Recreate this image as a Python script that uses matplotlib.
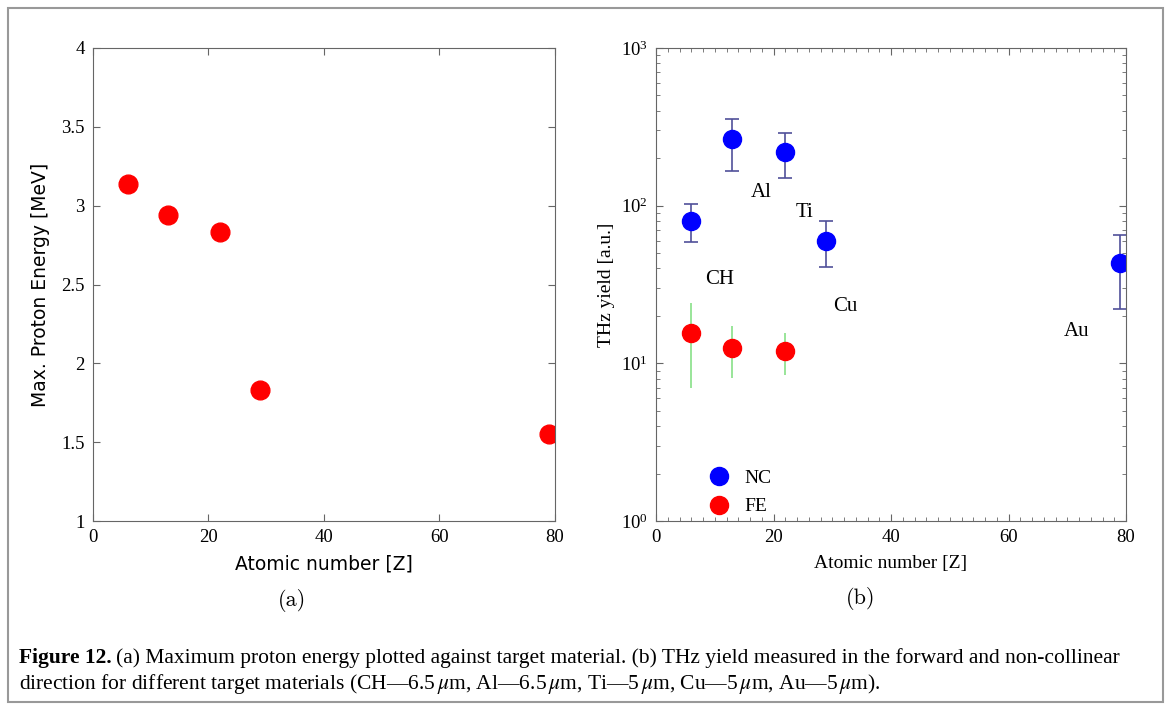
import numpy as np
import matplotlib
matplotlib.use('Agg')
import matplotlib.pyplot as plt
from matplotlib.patches import Rectangle
from matplotlib.ticker import MultipleLocator, LogLocator, NullFormatter

plt.rcParams['mathtext.fontset'] = 'stix'
plt.rcParams['font.family'] = 'Liberation Serif'

# (a) max proton energy
z_a = [6, 13, 22, 29, 79]
energy = [3.14, 2.94, 2.83, 1.83, 1.55]

# (b) THz yield
z_nc = [6, 13, 22, 29, 79]
nc = [80, 265, 219, 60, 43.5]
nc_lo = [58.5, 167, 150, 41, 22]
nc_hi = [102, 355, 288, 80, 65]

z_fe = [6, 13, 22]
fe = [15.5, 12.6, 12.0]
fe_lo = [7.0, 8.1, 8.4]
fe_hi = [24.0, 17.3, 15.6]

labels = ['CH', 'Al', 'Ti', 'Cu', 'Au']
label_x = [10.9, 17.9, 25.3, 32.3, 71.6]
label_y = [33.8, 122, 90, 23.1, 15.9]

W, H = 1171, 710
fig = plt.figure(figsize=(W/100, H/100), dpi=100)
spine_c = '#666666'

def px(x0, y0, x1, y1):
    return [x0/W, 1 - y1/H, (x1-x0)/W, (y1-y0)/H]

ax1 = fig.add_axes(px(93, 48, 555, 521))
ax1.plot(z_a, energy, 'o', color='#ff0000', ms=13.5, mec='#ff0000')
ax1.set_xlim(0, 80)
ax1.set_ylim(1, 4)
ax1.xaxis.set_major_locator(MultipleLocator(20))
ax1.set_yticks([1, 1.5, 2, 2.5, 3, 3.5, 4], ['1', '1.5', '2', '2.5', '3', '3.5', '4'])
ax1.tick_params(direction='in', top=True, right=True, length=5, color=spine_c,
                labelsize=13.5, pad=6)
ax1.set_xlabel('Atomic number [Z]', family='DejaVu Sans', fontsize=13.5, labelpad=6)
ax1.set_ylabel('Max. Proton Energy [MeV]', family='DejaVu Sans', fontsize=13.5, labelpad=8)

ax2 = fig.add_axes(px(656, 48, 1126, 521))
ax2.set_yscale('log')
nc_err = [np.array(nc) - np.array(nc_lo), np.array(nc_hi) - np.array(nc)]
fe_err = [np.array(fe) - np.array(fe_lo), np.array(fe_hi) - np.array(fe)]
ax2.errorbar(z_nc, nc, yerr=nc_err, fmt='none', ecolor='#50509a', elinewidth=1.2,
             capsize=5, capthick=1.2)
ax2.errorbar(z_fe, fe, yerr=fe_err, fmt='none', ecolor='#88e088', elinewidth=1.2,
             capsize=0)
ax2.plot(z_nc, nc, 'o', color='#0000ff', ms=13, label='NC')
ax2.plot(z_fe, fe, 'o', color='#ff0000', ms=13, label='FE')
for t, x, y in zip(labels, label_x, label_y):
    ax2.text(x, y, t, fontsize=15, ha='center', va='center')
ax2.set_xlim(0, 80)
ax2.set_ylim(1, 1000)
ax2.xaxis.set_major_locator(MultipleLocator(20))
ax2.xaxis.set_minor_locator(MultipleLocator(2))
ax2.yaxis.set_major_locator(LogLocator(base=10))
ax2.yaxis.set_minor_locator(LogLocator(base=10, subs=np.arange(2, 10)))
ax2.yaxis.set_minor_formatter(NullFormatter())
ax2.tick_params(which='both', direction='in', top=True, right=True, color=spine_c)
ax2.tick_params(which='major', length=5, labelsize=13.5, pad=6)
ax2.tick_params(which='minor', length=3)
ax2.set_xlabel('Atomic number [Z]', fontsize=14, labelpad=6)
ax2.set_ylabel('THz yield [a.u.]', fontsize=14, labelpad=4)
ax2.legend(loc='lower left', bbox_to_anchor=(0.055, -0.025), frameon=False,
           fontsize=14, handletextpad=0.3, labelspacing=0.55)

for ax in (ax1, ax2):
    for s in ax.spines.values():
        s.set_color(spine_c)

fig.text(292/W, 1 - 601/H, '(a)', family='cmr10', fontsize=16, ha='center', va='center')
fig.text(861/W, 1 - 599/H, '(b)', family='cmr10', fontsize=16, ha='center', va='center')

fig.patches.append(Rectangle((8/W, 8/H), (1163-8)/W, (702-8)/H, transform=fig.transFigure,
                             fill=False, edgecolor='#999999', lw=1.5))

# caption
r = fig.canvas.get_renderer()
t1 = fig.text(19/W, 1 - 658/H, 'Figure 12.', fontsize=15.5, weight='bold', va='center')
bb = t1.get_window_extent(r)
fig.text((bb.x1 + 4)/W, 1 - 658/H,
         '(a) Maximum proton energy plotted against target material. (b) THz yield measured '
         'in the forward and non-collinear', fontsize=15.5, va='center')
fig.text(19/W, 1 - 684/H,
         'direction for different target materials (CH\u20146.5$\\,\\mu$m, Al\u20146.5$\\,\\mu$m, '
         'Ti\u20145$\\,\\mu$m, Cu\u20145$\\,\\mu$m, Au\u20145$\\,\\mu$m).', fontsize=15.5, va='center')

fig.savefig('out.png', dpi=100)
